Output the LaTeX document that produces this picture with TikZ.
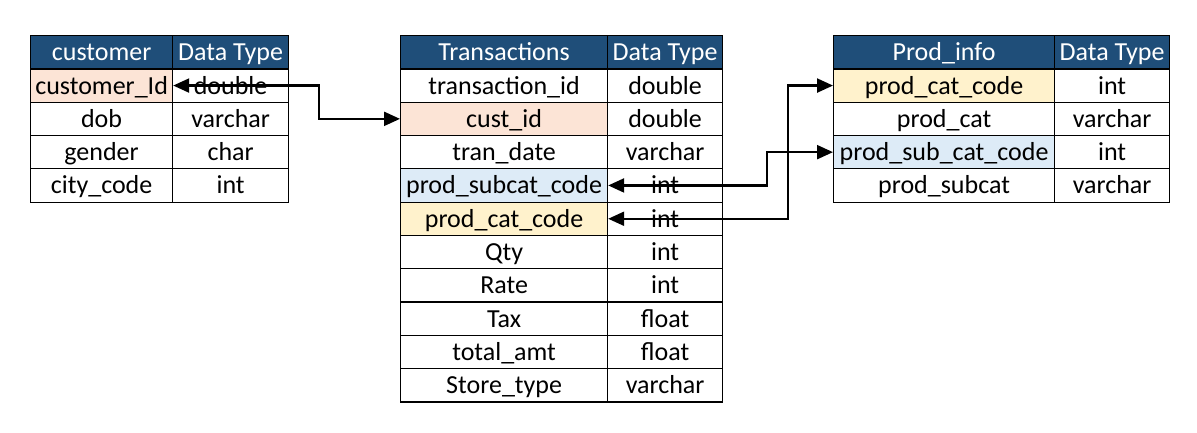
\documentclass[tikz,border=0pt]{standalone}
\usepackage{fontspec}
\setmainfont{Carlito}
\usetikzlibrary{arrows.meta}
\definecolor{hdrblue}{HTML}{1F4E79}
\definecolor{custfill}{HTML}{FCE4D6}
\definecolor{subfill}{HTML}{DDEBF7}
\definecolor{catfill}{HTML}{FFF2CC}

\begin{document}
\begin{tikzpicture}[x=1pt, y=-1pt,
  cell/.style={draw, line width=1.2pt, anchor=north west, inner sep=0pt, minimum height=33.3pt,
    text height=17pt, text depth=0pt, font=\fontsize{26}{30}\selectfont},
  hdr/.style={cell, fill=hdrblue, text=white},
  link/.style={{Triangle[length=16pt,width=14pt]}-{Triangle[length=16pt,width=14pt]}, line width=2.2pt}]
  \useasboundingbox (0,0) rectangle (1197,432);
  % customer
  \node[hdr, minimum width=142pt] (cuh) at (30,35) {customer};
  \node[hdr, minimum width=116pt] (cuth) at (172,35) {Data Type};
  \foreach \nm/\tp/\clr [count=\i] in {customer\_Id/double/custfill, dob/varchar/white,
      gender/char/white, city\_code/int/white} {
    \node[cell, fill=\clr, minimum width=142pt] (cu\i) at (30,{35+33.3*\i}) {\nm};
    \node[cell, minimum width=116pt] (cut\i) at (172,{35+33.3*\i}) {\tp};
  }
  % transactions
  \node[hdr, minimum width=207pt] (trh) at (400,35) {Transactions};
  \node[hdr, minimum width=115pt] (trth) at (607,35) {Data Type};
  \foreach \nm/\tp/\clr [count=\i] in {transaction\_id/double/white, cust\_id/double/custfill,
      tran\_date/varchar/white, prod\_subcat\_code/int/subfill, prod\_cat\_code/int/catfill,
      Qty/int/white, Rate/int/white, Tax/float/white, total\_amt/float/white, Store\_type/varchar/white} {
    \node[cell, fill=\clr, minimum width=207pt] (tr\i) at (400,{35+33.3*\i}) {\nm};
    \node[cell, minimum width=115pt] (trt\i) at (607,{35+33.3*\i}) {\tp};
  }
  % prod info
  \node[hdr, minimum width=221pt] (prh) at (833,35) {Prod\_info};
  \node[hdr, minimum width=115pt] (prth) at (1054,35) {Data Type};
  \foreach \nm/\tp/\clr [count=\i] in {prod\_cat\_code/int/catfill, prod\_cat/varchar/white,
      prod\_sub\_cat\_code/int/subfill, prod\_subcat/varchar/white} {
    \node[cell, fill=\clr, minimum width=221pt] (pr\i) at (833,{35+33.3*\i}) {\nm};
    \node[cell, minimum width=115pt] (prt\i) at (1054,{35+33.3*\i}) {\tp};
  }
  \draw[link] (cu1.east) -- ++(146,0) |- (tr2.west);
  \draw[link] (tr4.east) -- ++(159,0) |- (pr3.west);
  \draw[link] (tr5.east) -- ++(180,0) |- (pr1.west);
\end{tikzpicture}
\end{document}
